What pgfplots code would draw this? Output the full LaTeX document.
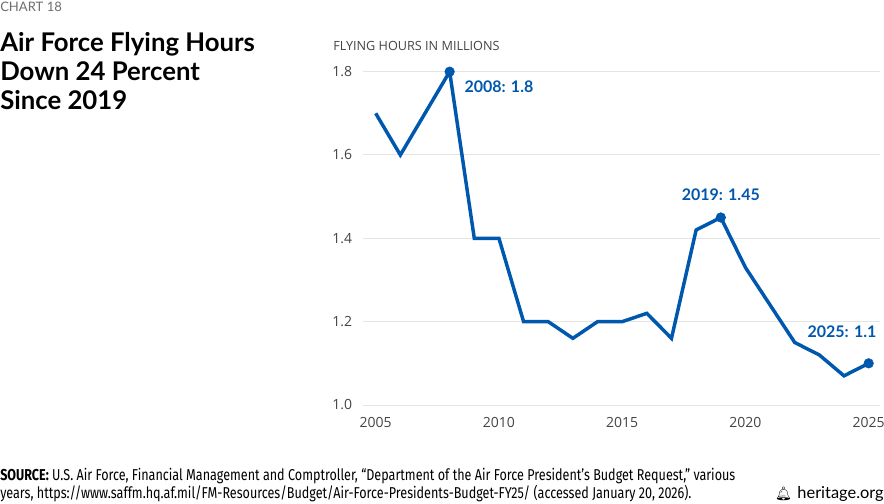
\documentclass[border=0pt]{standalone}
\usepackage{pgfplots}
\pgfplotsset{compat=1.18}
\usepackage{fontspec}
\setmainfont{Open Sans}
\newfontfamily\titlefont{Lato}
\newfontfamily\srcfont[FakeStretch=0.80]{Fira Sans}
\newfontfamily\emojifont{Noto Emoji}
\definecolor{hblue}{RGB}{0,87,174}
\definecolor{tickgray}{RGB}{68,68,68}
\definecolor{gridgray}{RGB}{228,228,228}
\definecolor{chartgray}{RGB}{110,110,110}

\pgfplotstableread{
year hours
2005 1.70
2006 1.60
2007 1.70
2008 1.80
2009 1.40
2010 1.40
2011 1.20
2012 1.20
2013 1.16
2014 1.20
2015 1.20
2016 1.22
2017 1.16
2018 1.42
2019 1.45
2020 1.33
2021 1.24
2022 1.15
2023 1.12
2024 1.07
2025 1.10
}\flyhours

\begin{document}
\begin{tikzpicture}
% page frame: 884 x 503 px at 0.75pt per px
\path[use as bounding box] (0,0) rectangle (663pt,377.25pt);

\begin{axis}[
    at={(272.25pt,73.5pt)}, anchor=south west,
    scale only axis,
    width=387.75pt, height=250pt,
    xmin=2004.485, xmax=2025.46,
    ymin=1.0, ymax=1.8,
    clip=false,
    axis line style={draw=none},
    major tick length=0pt,
    xtick={2005,2010,...,2025},
    ytick={1.0,1.2,...,1.8},
    ymajorgrids,
    grid style={gridgray, line width=0.75pt},
    /pgf/number format/assume math mode=true,
    tick label style={font=\fontsize{10.5}{12}\selectfont, text=tickgray},
    xticklabel style={anchor=north, inner sep=0pt, yshift=-9pt,
        /pgf/number format/1000 sep={}},
    yticklabel style={anchor=east, inner sep=0pt, xshift=-8pt,
        /pgf/number format/fixed, /pgf/number format/fixed zerofill,
        /pgf/number format/precision=1},
]
\addplot[hblue, line width=2.6pt, line join=miter, mark=none] table[x=year, y=hours] {\flyhours};
\addplot[only marks, mark=*, mark size=3.6pt, hblue] coordinates {(2008,1.8) (2019,1.45) (2025,1.1)};

\node[anchor=base west, inner sep=0pt, text=hblue, font=\titlefont\bfseries\fontsize{12}{14}\selectfont,
      xshift=11pt, yshift=-16pt] at (axis cs:2008,1.8) {2008: 1.8};
\node[anchor=base, inner sep=0pt, text=hblue, font=\titlefont\bfseries\fontsize{12}{14}\selectfont,
      yshift=12.5pt] at (axis cs:2019,1.45) {2019: 1.45};
\node[anchor=base east, inner sep=0pt, text=hblue, font=\titlefont\bfseries\fontsize{12}{14}\selectfont,
      xshift=6pt, yshift=19pt] at (axis cs:2025,1.1) {2025: 1.1};
\end{axis}

\begin{scope}[x=0.75pt, y=-0.75pt, shift={(0pt,377.25pt)}]
  \node[anchor=base west, inner sep=0pt, text=chartgray, font=\titlefont\fontsize{9.8}{11}\selectfont] at (0,12) {CHART 18};
  \node[anchor=base west, inner sep=0pt, font=\titlefont\bfseries\fontsize{19.3}{22}\selectfont] at (0,52) {Air Force Flying Hours};
  \node[anchor=base west, inner sep=0pt, font=\titlefont\bfseries\fontsize{19.3}{22}\selectfont] at (0,81) {Down 24 Percent};
  \node[anchor=base west, inner sep=0pt, font=\titlefont\bfseries\fontsize{19.3}{22}\selectfont] at (0,110) {Since 2019};
  \node[anchor=base west, inner sep=0pt, text=tickgray, font=\fontsize{9.5}{11}\selectfont] at (333,50.5) {FLYING HOURS IN MILLIONS};
  \node[anchor=base west, inner sep=0pt, font=\srcfont\fontsize{11.8}{13}\selectfont] at (0,480)
    {\textbf{SOURCE:} U.S. Air Force, Financial Management and Comptroller, “Department of the Air Force President’s Budget Request,” various};
  \node[anchor=base west, inner sep=0pt, font=\srcfont\fontsize{11.8}{13}\selectfont] at (0,498.5)
    {years, https://www.saffm.hq.af.mil/FM-Resources/Budget/Air-Force-Presidents-Budget-FY25/ (accessed January 20, 2026).};
  \node[anchor=base east, inner sep=0pt, font=\titlefont\fontsize{12.3}{14}\selectfont] at (884,498.5)
    {{\emojifont\fontsize{10}{12}\selectfont\symbol{"1F514}}\hspace{4pt}heritage.org};
\end{scope}
\end{tikzpicture}
\end{document}
